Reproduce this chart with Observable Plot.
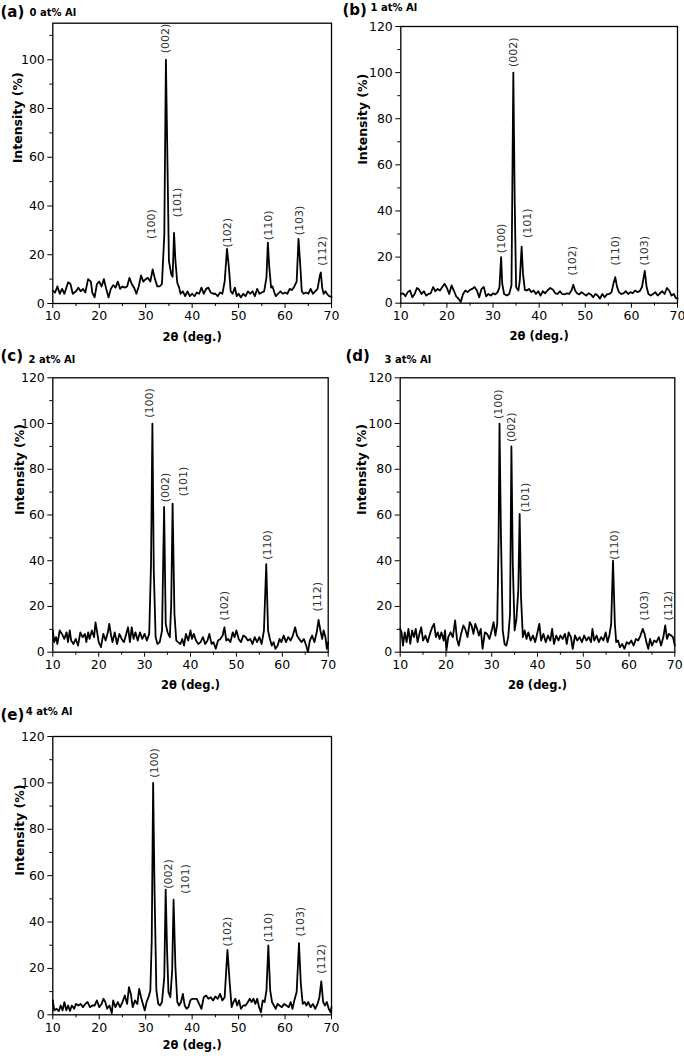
<!DOCTYPE html>
<html><head><meta charset="utf-8">
<script src="https://cdn.jsdelivr.net/npm/d3@7"></script>
<script src="https://cdn.jsdelivr.net/npm/@observablehq/plot@0.6"></script>
<style>
body{margin:0;background:#fff;}
#wrap{position:relative;width:684px;height:1063px;overflow:hidden;background:#fff;}
#wrap svg{position:absolute;overflow:visible;}
</style></head><body><div id="wrap"></div>
<script>
// ---- data: [2theta (deg), intensity (%)] ----
const xrdA = [[10,5.2],[10.5,4.5],[11,7],[11.5,4],[12,6],[12.5,4],[13,7],[13.3,8.7],[13.8,8],[14.3,4],[15,5],[15.5,6.5],[16,5],[16.5,6],[17,4.5],[17.6,10],[18.2,9],[18.5,4.5],[19,2.5],[19.5,8],[20,9],[20.5,7],[21,10],[21.5,6],[22,2.5],[22.5,6],[23,7.5],[23.5,6.5],[24,9],[24.5,6],[25,7],[25.5,6.5],[26,7],[26.5,10.5],[27,8],[27.5,6.5],[28,4],[28.5,7],[29,11.5],[29.5,9],[30,10],[30.5,10.5],[31,9],[31.5,14],[32,10],[32.5,7],[33,7],[33.5,8],[34,28],[34.35,100],[34.7,56],[35,17.5],[35.5,12],[35.8,11],[36.1,29],[36.4,17.5],[36.8,8.5],[37.2,6.5],[37.5,4],[38,5],[38.5,3],[39,5],[39.5,3],[40,4],[40.5,3],[41,4.5],[41.5,4],[42,6.5],[42.5,4],[43,6],[43.5,6.5],[44,4.5],[44.5,4],[45,4],[45.5,3],[46,4.5],[46.5,4],[47,9],[47.5,22.4],[47.9,15],[48.3,5],[48.7,4],[49.2,6.5],[49.6,3],[50,4],[50.5,2.5],[51,4],[51.5,3],[52,5],[52.5,4],[53,5],[53.5,3],[54,6],[54.5,4],[55,4.5],[55.5,5],[56,10.7],[56.3,25],[56.6,15],[57,6.5],[57.3,7],[57.7,4.5],[58,3],[58.5,4],[59,5],[59.5,4],[60,4.5],[60.5,4],[61,6],[61.5,5.5],[62,7],[62.5,9],[62.9,26.5],[63.3,15],[63.6,5],[64,4],[64.5,4.5],[65,4],[65.5,6],[66,4],[66.5,5],[67,6],[67.5,11.5],[67.7,12.7],[68,6.5],[68.3,4],[68.7,5],[69,4],[69.5,3],[70,2.7]];
const xrdB = [[10,4],[10.5,4.3],[11,3],[11.5,4.8],[12,5.5],[12.5,2.6],[13,4],[13.5,6.6],[14,5.8],[14.5,4],[15,5.2],[15.5,3.3],[16,4],[16.5,4.3],[17,7],[17.5,5.2],[18,6.2],[18.5,5.5],[19,7],[19.5,8.4],[20,6.6],[20.5,4],[21,7.7],[21.5,5.5],[22,3],[22.5,2],[23,0.5],[23.5,4],[24,5.5],[24.5,4.8],[25,5.8],[25.5,6.2],[26,7],[26.5,5.5],[27,2.6],[27.5,6.2],[28,7],[28.5,3],[29,4],[29.5,3.3],[30,4.3],[30.5,3.8],[31,4.8],[31.4,7],[31.75,20],[32,8.4],[32.4,4],[33,3.3],[33.5,4],[34,7.7],[34.4,100],[34.7,44.5],[35,7],[35.5,5.5],[35.8,9.8],[36.2,24.5],[36.5,12.7],[36.9,5.8],[37.3,5.5],[37.8,6.2],[38.3,4.8],[38.8,5.5],[39.3,4],[39.8,5.2],[40.3,3.3],[40.8,5.2],[41.3,4.3],[41.8,5.5],[42.4,6.6],[43,5.8],[43.5,4.3],[44,4],[44.5,5.2],[45,4],[45.5,3.8],[46,4.3],[46.5,4],[47,5.5],[47.4,8],[47.8,5.5],[48.2,4.3],[48.7,3.8],[49.2,4.8],[49.7,4],[50.2,3.3],[50.7,4.3],[51.2,3.8],[51.7,2.6],[52.2,4],[52.7,3.3],[53.2,2],[53.7,4],[54.2,2.6],[54.7,3.8],[55.2,4],[55.7,4.8],[56.1,8.4],[56.5,11.3],[56.9,7],[57.3,4.8],[57.8,4],[58.3,4.3],[58.8,5.2],[59.3,4],[59.8,4.8],[60.3,4.3],[60.8,5.5],[61.3,4.8],[61.8,5.2],[62.3,7],[62.9,14],[63.3,7],[63.7,4],[64.2,3.3],[64.7,4],[65.2,4.8],[65.7,3.3],[66.2,4.3],[66.7,5.2],[67.2,4],[67.7,6.6],[68.2,5.5],[68.7,3.3],[69.2,4],[69.6,2.3],[70,1.9]];
const xrdC = [[10,9.5],[10.3,4.4],[10.7,6.6],[11,3.6],[11.5,9.5],[12,8],[12.5,5.8],[13,8.7],[13.3,4.4],[13.7,9.5],[14,5.1],[14.5,3.6],[15,5.8],[15.5,2.9],[16,8.7],[16.5,6.6],[17,8],[17.3,4.4],[17.7,8.7],[18,5.8],[18.5,9.5],[19,6.6],[19.3,13],[19.6,9.5],[20,4.4],[20.5,2.2],[21,8],[21.5,5.1],[22,8.7],[22.3,12.4],[22.7,7.3],[23,4.4],[23.5,8.7],[24,3.6],[24.5,8],[25,5.8],[25.5,4.4],[26,8],[26.4,10.9],[26.8,4.4],[27.2,10.9],[27.6,5.8],[28,8.7],[28.5,5.1],[29,8.7],[29.5,5.8],[30,8],[30.5,5.1],[31,8],[31.4,38.6],[31.7,100],[32,35.7],[32.4,6.6],[32.8,3.6],[33.3,4.4],[33.8,9.5],[34.25,63.5],[34.6,12.4],[35,8.7],[35.5,6.6],[35.8,21],[36.1,65],[36.5,16.8],[36.9,5.1],[37.3,4.4],[37.8,3.6],[38.2,5.8],[38.6,2.9],[39,8],[39.5,5.1],[40,9.5],[40.3,5.8],[40.7,8],[41.2,5.1],[41.7,3.6],[42.2,4.4],[42.7,6.6],[43.2,3.6],[43.7,5.1],[44.1,8],[44.6,3.6],[45,4.4],[45.5,1.5],[46,5.1],[46.5,5.8],[47,7.3],[47.4,10.9],[47.8,5.1],[48.2,5.8],[48.7,4.4],[49.2,8.7],[49.6,6.6],[50,9.5],[50.5,5.8],[51,4.4],[51.5,7.3],[52,6.6],[52.5,5.1],[53,5.8],[53.5,3.6],[54,6.6],[54.5,4.4],[55,6.6],[55.5,3.6],[56,9.5],[56.5,38.5],[56.9,9.5],[57.3,5.8],[57.7,2.9],[58.1,4.4],[58.5,1.5],[59,2.9],[59.4,5.8],[59.8,4.4],[60.3,7.3],[60.8,4.4],[61.3,6.6],[61.8,5.1],[62.3,7.3],[62.8,10.9],[63.2,7.3],[63.7,5.8],[64.2,4.4],[64.7,5.8],[65.2,2.9],[65.6,0],[66,5.1],[66.5,7.3],[67,4.4],[67.5,8.7],[67.9,14.1],[68.3,9.5],[68.7,5.8],[69,9.5],[69.4,6.6],[69.7,1.5],[70,4.4]];
const xrdD = [[10,10.2],[10.3,8.7],[10.6,2.9],[11,8.7],[11.4,4.4],[11.8,10.2],[12.2,3.6],[12.6,9.5],[13,6.6],[13.4,10.2],[13.8,4.4],[14.2,8],[14.6,10.9],[15,5.1],[15.5,7.3],[16,4.4],[16.5,8],[17,10.9],[17.4,12.4],[17.8,6.6],[18.2,8.7],[18.6,5.8],[19,8.7],[19.5,5.1],[19.8,9.5],[20.1,0.7],[20.5,6.6],[21,8.7],[21.5,6.6],[22,13.9],[22.4,5.8],[22.8,2.9],[23.3,8],[23.8,11.7],[24.2,10.2],[24.7,6.6],[25.2,13.1],[25.6,11.7],[26,8],[26.4,12.4],[26.8,10.2],[27.2,7.3],[27.6,10.2],[28,1.5],[28.5,8.7],[29,8],[29.5,5.8],[30,9.5],[30.4,13.1],[30.8,7.3],[31.2,12.4],[31.5,50],[31.7,100],[32,53],[32.4,9.5],[32.8,3.6],[33.2,2.9],[33.6,6.6],[34,16.8],[34.3,90],[34.6,38.6],[35,9.5],[35.4,14.6],[35.8,27],[36.1,60.5],[36.4,24],[36.8,6.6],[37.2,9.5],[37.6,5.8],[38,8.7],[38.5,5.1],[39,7.3],[39.5,4.4],[40,8.7],[40.4,12.4],[40.8,5.1],[41.3,8],[41.8,4.4],[42.3,7.3],[42.8,5.1],[43.2,10.2],[43.6,3.6],[44.1,7.3],[44.6,5.1],[45,7.3],[45.5,5.8],[46,8],[46.4,3.6],[46.8,8.7],[47.3,6.6],[47.7,1.5],[48.2,7.3],[48.7,5.1],[49.2,6.6],[49.7,4.4],[50.2,7.3],[50.7,5.1],[51.2,6.6],[51.7,4.4],[52,10.2],[52.4,5.1],[52.9,7.3],[53.4,4.4],[53.9,6.6],[54.4,5.1],[54.9,8.7],[55.3,4.4],[55.7,7.3],[56.1,12.4],[56.5,40],[56.9,12.4],[57.2,4.4],[57.6,5.1],[58,2.2],[58.5,3.6],[59,1.5],[59.5,4.4],[60,3.6],[60.5,5.1],[61,2.9],[61.5,5.8],[62,5.1],[62.5,7.3],[63,10.2],[63.4,8],[63.8,4.4],[64.2,1.5],[64.6,5.8],[65,2.9],[65.5,5.1],[66,4.4],[66.5,6.6],[67,2.9],[67.5,6.6],[67.9,11.7],[68.3,5.8],[68.7,8],[69.2,7.3],[69.6,6.6],[70,2.9]];
const xrdE = [[10,6.2],[10.3,1.9],[10.8,2.6],[11.3,1.6],[11.7,4],[12.1,1.9],[12.5,5.5],[12.9,1.9],[13.3,4],[13.7,1.6],[14.1,4],[14.6,2.6],[15,4.7],[15.5,4],[16,4.7],[16.5,3.3],[17,4.7],[17.5,5.5],[18,3.3],[18.5,4],[19,4],[19.5,6.2],[20,3.3],[20.5,4.7],[20.9,6.9],[21.3,5.5],[21.7,2.6],[22.2,4],[22.7,0.7],[23,6.2],[23.5,3.3],[24,5.5],[24.5,3.3],[25,5.5],[25.5,8.3],[26,4.7],[26.4,11.9],[26.8,9],[27.2,3.3],[27.7,6.2],[28.2,4.7],[28.6,11.2],[29,7.6],[29.4,4.7],[29.8,1.9],[30.2,5.5],[30.6,7.6],[31,10.5],[31.3,32],[31.6,100],[31.9,53.6],[32.3,10.5],[32.7,4.7],[33.1,4],[33.5,5.5],[34,16.2],[34.3,54],[34.6,27.7],[34.9,9.8],[35.3,7.6],[35.7,19],[36,49.6],[36.4,20.5],[36.8,5.5],[37.2,4],[37.6,5.5],[38,9],[38.4,4],[38.8,2.6],[39.2,3.3],[39.6,6.2],[40,6.9],[40.5,6.9],[41,6.9],[41.5,4.7],[42,2.6],[42.5,7.6],[43,8.3],[43.5,6.9],[44,7.6],[44.5,6.2],[45,7.9],[45.5,6.9],[46,9],[46.5,6.2],[47,7.6],[47.6,28],[48.1,13.4],[48.5,3.3],[48.9,5.5],[49.3,6.9],[49.7,4],[50.1,6.2],[50.5,2.6],[51,4],[51.5,4],[52,5.5],[52.4,6.9],[52.8,5.5],[53.2,6.9],[53.6,4.7],[54,6.9],[54.4,3.3],[54.8,1.1],[55.2,6.2],[55.6,5.5],[56,10.5],[56.4,29.9],[56.8,10.5],[57.2,5.5],[57.6,4],[58,2.6],[58.4,4.7],[58.8,4],[59.3,3.3],[59.8,4.7],[60.3,4],[60.8,3.3],[61.2,5.5],[61.6,2.6],[62,6.2],[62.5,9.8],[63,30.9],[63.4,13.4],[63.8,4.7],[64.2,5.5],[64.6,4],[65,5.5],[65.5,3.3],[66,4.7],[66.5,2.6],[67,4.7],[67.4,7.6],[67.8,14.4],[68.2,5.5],[68.6,4],[69,5.5],[69.4,2.6],[69.8,1.1],[70,3.3]];

// peak labels: [hkl, 2theta, intensity where the label starts]
const peaksA = [["(100)",31.2,26.5],["(002)",34.3,102.7],["(101)",36.8,35.4],["(102)",47.5,23],["(110)",56.5,26],["(103)",63,28],["(112)",68,15.5]];
const peaksB = [["(100)",31.9,21.7],["(002)",34.4,102.4],["(101)",37.5,28.3],["(102)",47.2,12],["(110)",56.5,16.3],["(103)",62.8,16.3]];
const peaksC = [["(100)",31.1,102.5],["(002)",34.5,65.6],["(101)",38.4,68.2],["(102)",47.4,13.9],["(110)",56.7,40.4],["(112)",67.6,17.8]];
const peaksD = [["(100)",31.5,102],["(002)",34.4,91.9],["(101)",37.3,61.2],["(110)",56.8,40.4],["(103)",63.3,13.9],["(112)",68.6,13.9]];
const peaksE = [["(100)",31.8,102.2],["(002)",34.8,54.3],["(101)",38.6,52.2],["(102)",47.5,29.5],["(110)",56.4,31.3],["(103)",63.3,33.8],["(112)",67.8,17.7]];

const panelTags = ["(a)","(b)","(c)","(d)","(e)"];
const panelSubs = ["0 at% Al","1 at% Al","2 at% Al","3 at% Al","4 at% Al"];
const xMajorTicks = [10,20,30,40,50,60,70];
const xMinorTicks = [15,25,35,45,55,65];
const yMajorTicksA = [0,20,40,60,80,100];
const yMinorTicksA = [10,30,50,70,90,110];
const yMajorTicks = [0,20,40,60,80,100,120];
const yMinorTicks = [10,30,50,70,90,110];
const yMaxA = 115, yMax = 120;
const xLabel = "2θ (deg.)", yLabel = "Intensity (%)";

// ---- layout ----
const panels = [
  {data:xrdA, peaks:peaksA, ymax:yMaxA, ymaj:yMajorTicksA, ymin:yMinorTicksA, left:0, top:0, w:342, h:345, ml:52.3, mr:11, mt:22.7, mb:42, ylx:-35, xly:37, tag:[-52.3,-6.2], sub:[-23.3,-7.7]},
  {data:xrdB, peaks:peaksB, ymax:yMax, ymaj:yMajorTicks, ymin:yMinorTicks, left:342, top:0, w:342, h:345, ml:58.3, mr:7, mt:26, mb:42.3, ylx:-38, xly:37, tag:[-58.3,-12], sub:[-30.3,-15.5]},
  {data:xrdC, peaks:peaksC, ymax:yMax, ymaj:yMajorTicks, ymin:yMinorTicks, left:0, top:330, w:342, h:370, ml:52.3, mr:14.3, mt:47.3, mb:48.3, ylx:-33, xly:37, tag:[-52.3,-17.3], sub:[-24.3,-15.3]},
  {data:xrdD, peaks:peaksD, ymax:yMax, ymaj:yMajorTicks, ymin:yMinorTicks, left:342, top:330, w:342, h:370, ml:57.7, mr:9.7, mt:47.3, mb:48.3, ylx:-38, xly:37, tag:[-54.7,-17.3], sub:[-15.7,-15.3]},
  {data:xrdE, peaks:peaksE, ymax:yMax, ymaj:yMajorTicks, ymin:yMinorTicks, left:0, top:700, w:342, h:363, ml:52.3, mr:11, mt:36, mb:48.7, ylx:-33, xly:34, tag:[-52.3,-17], sub:[-27,-21.5]}
];

const wrap = document.getElementById("wrap");
panels.forEach((p, i) => {
  const chart = Plot.plot({
    width: p.w, height: p.h,
    marginLeft: p.ml, marginRight: p.mr, marginTop: p.mt, marginBottom: p.mb,
    x: {domain: [10, 70]},
    y: {domain: [0, p.ymax]},
    style: {fontFamily: "DejaVu Sans", fontSize: "12.5px", color: "#000", background: "transparent", overflow: "visible"},
    marks: [
      Plot.axisX({ticks: xMajorTicks, tickSize: 5, tickPadding: 3, label: null, tickFormat: d => String(d)}),
      Plot.axisX({ticks: xMinorTicks, tickSize: 3, label: null, tickFormat: () => ""}),
      Plot.axisY({ticks: p.ymaj, tickSize: 5, tickPadding: 3, label: null, tickFormat: d => String(d)}),
      Plot.axisY({ticks: p.ymin, tickSize: 3, label: null, tickFormat: () => ""}),
      Plot.line(p.data, {x: d => d[0], y: d => d[1], stroke: "#000", strokeWidth: 1.8, strokeLinejoin: "round"}),
      Plot.frame({stroke: "#000", strokeWidth: 1.3}),
      Plot.text(p.peaks, {x: d => d[1], y: d => d[2], text: d => d[0], rotate: -90, textAnchor: "start", fontSize: 11, fill: "#333"}),
      Plot.text([yLabel], {frameAnchor: "left", rotate: -90, dx: p.ylx, fontWeight: "bold", fontSize: 12.5}),
      Plot.text([xLabel], {frameAnchor: "bottom", dy: p.xly, fontWeight: "bold", fontSize: 11.5}),
      Plot.text([panelTags[i]], {frameAnchor: "top-left", dx: p.tag[0], dy: p.tag[1], textAnchor: "start", lineAnchor: "bottom", fontWeight: "bold", fontSize: 15}),
      Plot.text([panelSubs[i]], {frameAnchor: "top-left", dx: p.sub[0], dy: p.sub[1], textAnchor: "start", lineAnchor: "bottom", fontWeight: "bold", fontSize: 10})
    ]
  });
  chart.style.left = p.left + "px";
  chart.style.top = p.top + "px";
  wrap.appendChild(chart);
});
</script></body></html>
